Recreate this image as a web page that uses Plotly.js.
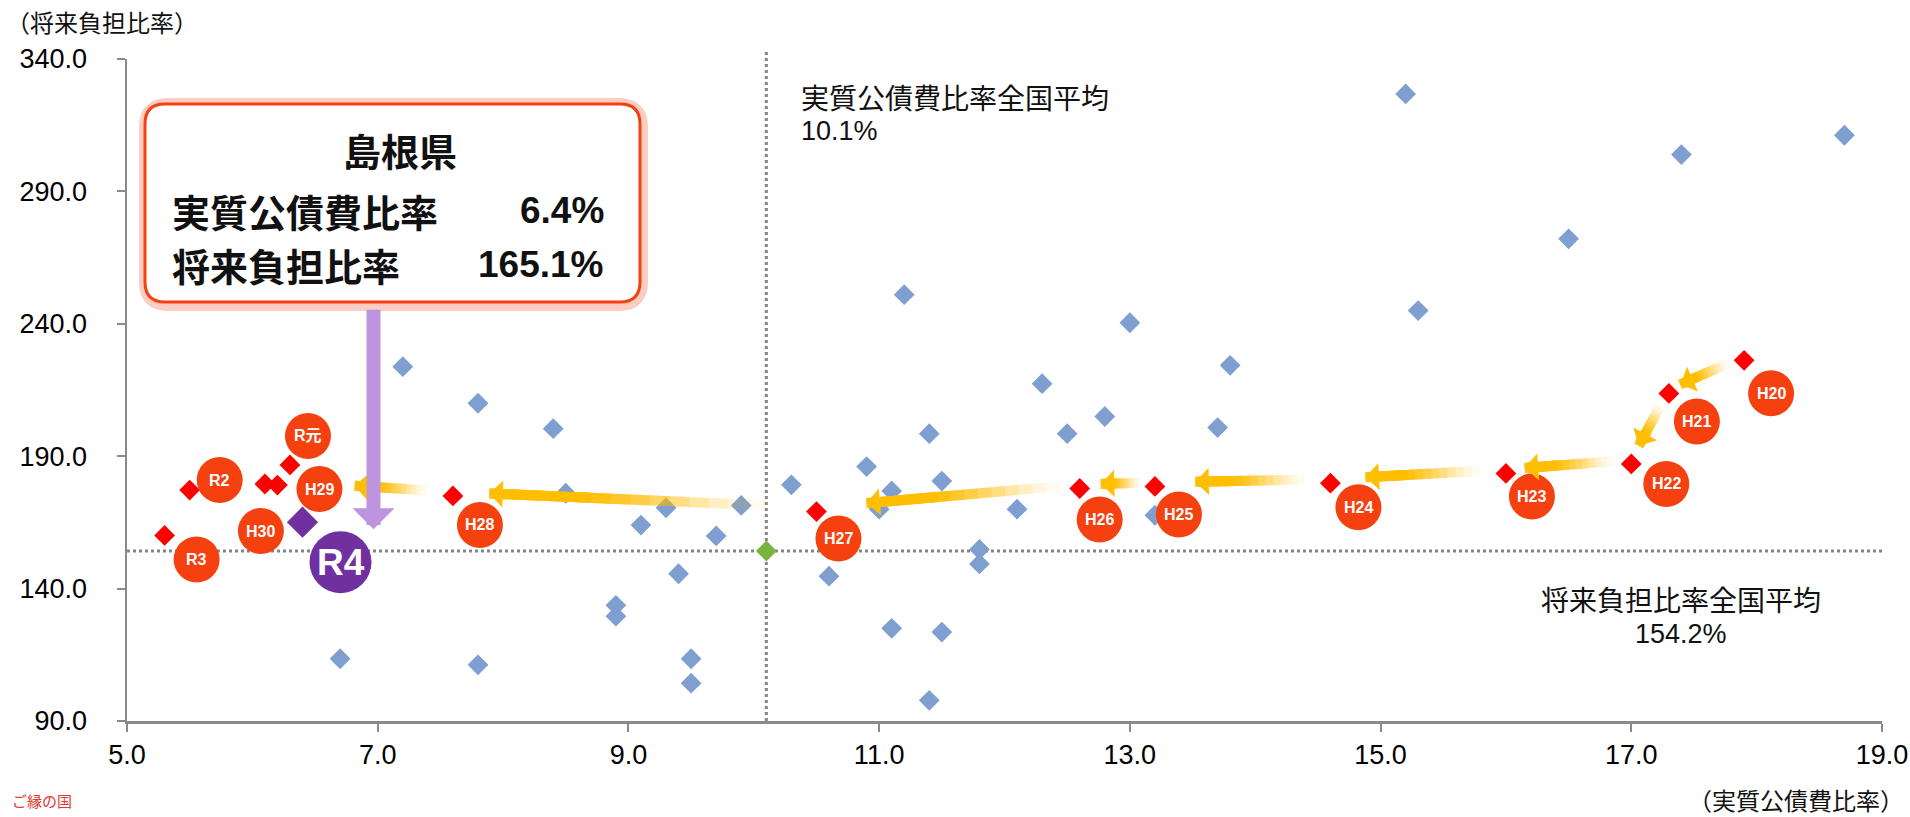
<!DOCTYPE html>
<html>
<head>
<meta charset="utf-8">
<script src="https://cdn.plot.ly/plotly-3.0.1.min.js"></script>
<style>
html,body{margin:0;padding:0;background:#ffffff;}
#chart{width:1910px;height:817px;}
</style>
</head>
<body>
<div id="chart"></div>
<script>
// ---- data: other prefectures (実質公債費比率, 将来負担比率) ----
const otherX = [7.2,7.8,8.4,8.5,9.1,9.3,9.7,9.9,9.4,8.9,8.9,9.5,9.5,7.8,6.7,
  10.3,10.6,10.9,11.0,11.1,11.2,11.1,11.4,11.5,11.5,11.4,11.8,11.8,
  12.1,12.3,12.5,12.8,13.0,13.2,13.7,13.8,15.2,15.3,16.5,17.4,18.7];
const otherY = [223.8,210.0,200.4,176.0,164.0,170.5,159.9,171.4,145.6,133.7,129.6,113.5,104.3,111.2,113.5,
  179.2,144.7,186.1,170.0,176.9,251.0,125.0,198.5,180.6,123.6,97.8,154.8,149.3,
  170.0,217.4,198.5,205.0,240.4,167.7,200.8,224.3,326.8,245.0,272.1,303.9,311.2];

// ---- data: 島根県 history ----
const yearLabels = ['H20','H21','H22','H23','H24','H25','H26','H27','H28','H29','H30','R元','R2','R3'];
const histX = [17.9,17.3,17.0,16.0,14.6,13.2,12.6,10.5,7.6,6.2,6.1,6.3,5.5,5.3];
const histY = [226.2,213.7,187.1,183.5,179.8,178.6,177.8,169.1,175.0,179.1,179.5,186.7,177.2,160.1];

// ---- data: current year ----
const currentLabel = 'R4';
const currentX = [6.4];
const currentY = [165.1];

// ---- national averages ----
const avgX = 10.1;
const avgY = 154.2;

// ---- texts ----
const prefName = '島根県';
const boxRow1 = '実質公債費比率';
const boxRow2 = '将来負担比率';
const boxVal1 = '6.4%';
const boxVal2 = '165.1%';
const avgXText = '実質公債費比率全国平均';
const avgXValue = '10.1%';
const avgYText = '将来負担比率全国平均';
const avgYValue = '154.2%';
const yTitle = '（将来負担比率）';
const xTitle = '（実質公債費比率）';
const logoText = 'ご縁の国';

// ---- style / layout config (pixel geometry) ----
const W = 1910, H = 817;
const M = {l:127, r:28, t:59, b:96};
const PW = W - M.l - M.r, PH = H - M.t - M.b;
const PX = p => (p - M.l) / PW;          // pixel -> paper x
const PY = p => (H - M.b - p) / PH;      // pixel -> paper y

const LATIN = "'Liberation Sans', Arial, 'Noto Sans CJK JP', sans-serif";
const CJK = "'Noto Sans CJK JP', 'Liberation Sans', sans-serif";

// label circle offsets (pixels, right / down) for each year label
const labelOffsets = [[27,33],[28,28],[35,20],[26,23],[28,24],[24,28],[20,31],[22,27],[27,29],[42,4],[-4,47],[18,-29],[30,-10],[32,24]];
const currentOffset = [38,40];
// arrow extents (fraction along each step)
const arrowTailT = [0.2,0.2,0.13,0.14,0.14,0.18,0.07,0.13,0.14];
const arrowHeadT = [0.85,0.8,0.85,0.8,0.77,0.72,0.81,0.9,0.56];
// cumulative opacity targets along the first part of each arrow
const fade = [0.05,0.12,0.22,0.34,0.47,0.6,0.72,0.83,0.92,1];
const fadeSpan = 0.7;

const traces = [
  {type:'scatter', mode:'markers', x: otherX, y: otherY, hoverinfo:'skip',
   marker:{symbol:'diamond', size:16, color:'#7E9FD0', line:{width:0}}},
  {type:'scatter', mode:'markers', x: histX, y: histY, hoverinfo:'skip',
   marker:{symbol:'diamond', size:16, color:'#FF0000', line:{width:0}}},
  {type:'scatter', mode:'markers', x:[avgX], y:[avgY], hoverinfo:'skip',
   marker:{symbol:'diamond', size:16, color:'#78B43E', line:{width:0}}},
  {type:'scatter', mode:'markers', x: currentX, y: currentY, hoverinfo:'skip',
   marker:{symbol:'diamond', size:24, color:'#7030A0', line:{width:0}}}
];

const shapes = [];
const annotations = [];

// national average reference lines
shapes.push({type:'line', xref:'x', yref:'paper', x0:avgX, x1:avgX, y0:0, y1:1.015, layer:'below',
  line:{color:'#858585', width:3, dash:'dot'}});
shapes.push({type:'line', xref:'paper', yref:'y', x0:0, x1:1, y0:avgY, y1:avgY, layer:'below',
  line:{color:'#858585', width:3, dash:'dot'}});

// yellow arrows between successive years (overlapping strokes build a fading tail)
for (let i = 0; i < arrowTailT.length; i++) {
  const x0 = histX[i], y0 = histY[i], x1 = histX[i+1], y1 = histY[i+1];
  const tx = x0 + (x1-x0)*arrowTailT[i], ty = y0 + (y1-y0)*arrowTailT[i];
  const hx = x0 + (x1-x0)*arrowHeadT[i], hy = y0 + (y1-y0)*arrowHeadT[i];
  const N = fade.length;
  let prev = 0;
  for (let k = 0; k < N; k++) {
    const a = Math.min(1, 1 - (1 - fade[k]) / (1 - prev));
    prev = fade[k];
    const f = fadeSpan * k / N;
    const sx = tx + (hx-tx)*f, sy = ty + (hy-ty)*f;
    const last = (k === N-1);
    annotations.push({x:hx, y:hy, ax:sx, ay:sy, xref:'x', yref:'y', axref:'x', ayref:'y',
      text:'', showarrow:true, arrowhead: last ? 1 : 0, arrowsize: last ? 0.45 : 1, arrowwidth:10,
      arrowcolor:'rgba(255,190,0,' + a.toFixed(3) + ')', standoff:0, startstandoff:0, yshift:4});
  }
}

// year label circles + texts
const R = 23;
for (let i = 0; i < yearLabels.length; i++) {
  const [dx, dy] = labelOffsets[i];
  shapes.push({type:'circle', xref:'x', yref:'y', xsizemode:'pixel', ysizemode:'pixel',
    xanchor: histX[i], yanchor: histY[i], x0: dx-R, x1: dx+R, y0: -dy-R, y1: -dy+R,
    fillcolor:'#F5400F', line:{width:0}, layer:'above'});
  annotations.push({x: histX[i], y: histY[i], xref:'x', yref:'y', xshift: dx, yshift: -dy,
    text:'<b>' + yearLabels[i] + '</b>', showarrow:false,
    font:{family: LATIN, size:16, color:'#ffffff'}});
}
// current year label
{
  const [dx, dy] = currentOffset, RR = 31;
  shapes.push({type:'circle', xref:'x', yref:'y', xsizemode:'pixel', ysizemode:'pixel',
    xanchor: currentX[0], yanchor: currentY[0], x0: dx-RR, x1: dx+RR, y0: -dy-RR, y1: -dy+RR,
    fillcolor:'#7030A0', line:{width:0}, layer:'above'});
  annotations.push({x: currentX[0], y: currentY[0], xref:'x', yref:'y', xshift: dx, yshift: -dy,
    text:'<b>' + currentLabel + '</b>', showarrow:false,
    font:{family: LATIN, size:37, color:'#ffffff'}});
}

// callout box
function roundRect(l, t, r, b, rad) {
  const X = PX, Y = PY;
  return 'M' + X(l+rad) + ',' + Y(t) +
    ' L' + X(r-rad) + ',' + Y(t) + ' Q' + X(r) + ',' + Y(t) + ' ' + X(r) + ',' + Y(t+rad) +
    ' L' + X(r) + ',' + Y(b-rad) + ' Q' + X(r) + ',' + Y(b) + ' ' + X(r-rad) + ',' + Y(b) +
    ' L' + X(l+rad) + ',' + Y(b) + ' Q' + X(l) + ',' + Y(b) + ' ' + X(l) + ',' + Y(b-rad) +
    ' L' + X(l) + ',' + Y(t+rad) + ' Q' + X(l) + ',' + Y(t) + ' ' + X(l+rad) + ',' + Y(t) + ' Z';
}
const box = {l:145, t:104, r:640, b:302};
shapes.push({type:'path', xref:'paper', yref:'paper', path: roundRect(box.l+1, box.t+1, box.r+1, box.b+2, 22),
  line:{color:'#FCCDC2', width:14}, fillcolor:'rgba(0,0,0,0)', layer:'above'});
shapes.push({type:'path', xref:'paper', yref:'paper', path: roundRect(box.l, box.t, box.r, box.b, 20),
  line:{color:'#F5400F', width:3}, fillcolor:'#ffffff', layer:'above'});

// purple pointer arrow from box to current point
annotations.push({x: currentX[0], y: currentY[0], xref:'x', yref:'y', xshift:71, yshift:-7,
  ax:0, ay:-221, axref:'pixel', ayref:'pixel', text:'', showarrow:true,
  arrowhead:1, arrowsize:0.5, arrowwidth:14, arrowcolor:'#BD95DF', standoff:0});

// callout texts
annotations.push({xref:'paper', yref:'paper', x:PX(400), y:PY(149), xanchor:'center', yanchor:'middle',
  text:'<b>' + prefName + '</b>', showarrow:false, font:{family: CJK, size:38, color:'#111'}});
annotations.push({xref:'paper', yref:'paper', x:PX(170), y:PY(210), xanchor:'left', yanchor:'middle',
  text:'<b>' + boxRow1 + '</b>', showarrow:false, font:{family: CJK, size:38, color:'#111'}});
annotations.push({xref:'paper', yref:'paper', x:PX(170), y:PY(264), xanchor:'left', yanchor:'middle',
  text:'<b>' + boxRow2 + '</b>', showarrow:false, font:{family: CJK, size:38, color:'#111'}});
annotations.push({xref:'paper', yref:'paper', x:PX(606), y:PY(210), xanchor:'right', yanchor:'middle',
  text:'<b>' + boxVal1 + '</b>', showarrow:false, font:{family: LATIN, size:37, color:'#111'}});
annotations.push({xref:'paper', yref:'paper', x:PX(606), y:PY(264), xanchor:'right', yanchor:'middle',
  text:'<b>' + boxVal2 + '</b>', showarrow:false, font:{family: LATIN, size:37, color:'#111'}});

// average labels
annotations.push({xref:'x', yref:'paper', x:avgX, xshift:33, y:PY(97), xanchor:'left', yanchor:'middle',
  text: avgXText, showarrow:false, font:{family: CJK, size:28, color:'#111'}});
annotations.push({xref:'x', yref:'paper', x:avgX, xshift:33, y:PY(131), xanchor:'left', yanchor:'middle',
  text: avgXValue, showarrow:false, font:{family: LATIN, size:27, color:'#111'}});
annotations.push({xref:'paper', yref:'paper', x:PX(1681), y:PY(599), xanchor:'center', yanchor:'middle',
  text: avgYText, showarrow:false, font:{family: CJK, size:28, color:'#111'}});
annotations.push({xref:'paper', yref:'paper', x:PX(1681), y:PY(634), xanchor:'center', yanchor:'middle',
  text: avgYValue, showarrow:false, font:{family: LATIN, size:27, color:'#111'}});

// axis titles
annotations.push({xref:'paper', yref:'paper', x:PX(4), y:PY(22), xanchor:'left', yanchor:'middle',
  text: yTitle, showarrow:false, font:{family: CJK, size:24, color:'#111'}});
annotations.push({xref:'paper', yref:'paper', x:PX(1906), y:PY(799), xanchor:'right', yanchor:'middle',
  text: xTitle, showarrow:false, font:{family: CJK, size:24, color:'#111'}});

// logo text
annotations.push({xref:'paper', yref:'paper', x:PX(10), y:PY(813), xanchor:'left', yanchor:'bottom',
  text: logoText, showarrow:false, font:{family: CJK, size:15, color:'#E23A36'}});

const axisCommon = {
  showgrid:false, zeroline:false, showline:true, linecolor:'#8A8A8A', linewidth:2.5,
  ticks:'outside', ticklen:8, tickwidth:2, tickcolor:'#8A8A8A', tickformat:'.1f',
  tickfont:{family: LATIN, size:27, color:'#000'}, fixedrange:true
};

const layout = {
  width: W, height: H,
  margin: {l:M.l, r:M.r, t:M.t, b:M.b, pad:0},
  paper_bgcolor:'#ffffff', plot_bgcolor:'#ffffff',
  showlegend:false,
  xaxis: Object.assign({}, axisCommon, {range:[5,19], dtick:2, tick0:5, ticklabelstandoff:0}),
  yaxis: Object.assign({}, axisCommon, {range:[90,340], dtick:50, tick0:90, ticklabelstandoff:24}),
  shapes: shapes,
  annotations: annotations
};

Plotly.newPlot('chart', traces, layout, {displayModeBar:false, staticPlot:true});
</script>
</body>
</html>
